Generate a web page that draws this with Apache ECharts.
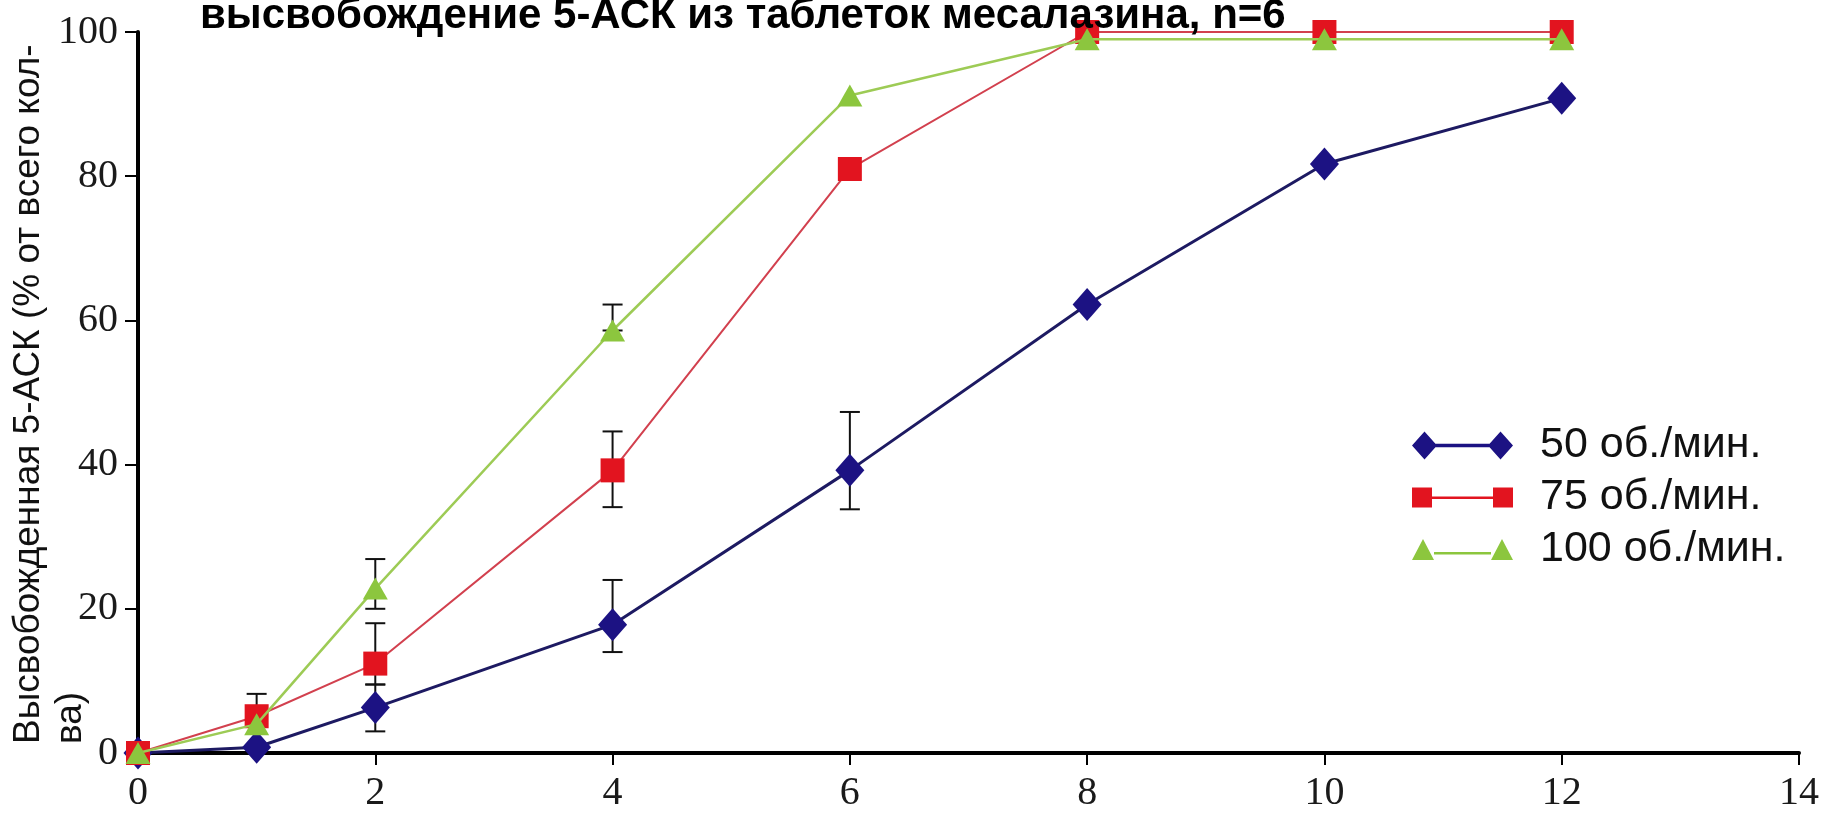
<!DOCTYPE html>
<html>
<head>
<meta charset="utf-8">
<script src="https://cdn.jsdelivr.net/npm/echarts@6/dist/echarts.min.js"></script>
<style>html,body{margin:0;padding:0;background:#fff}#c{width:1822px;height:813px}</style>
</head>
<body>
<div id="c"></div>
<script>
// ---- data ----
const titleText = 'высвобождение 5-АСК из таблеток месалазина, n=6';
const yAxisTitle = 'Высвобожденная 5-АСК (% от всего кол-\nва)';
const seriesNames = ['50 об./мин.', '75 об./мин.', '100 об./мин.'];
const timePoints = [0, 1, 2, 4, 6, 8, 10, 12];
const rpm50 = [0, 0.8, 6.3, 17.8, 39.2, 62.2, 81.7, 90.8];
const rpm75 = [0, 5.1, 12.4, 39.2, 81.0, 100, 100, 100];
const rpm100 = [0, 4.0, 22.8, 58.6, 91.2, 99, 99, 99];
// error bars: [time, low, high]
const err50 = [[2, 3.0, 9.5], [4, 14.0, 24.0], [6, 33.8, 47.3]];
const err75 = [[1, 5.1, 8.2], [2, 9.5, 18.0], [4, 34.1, 44.6]];
const err100 = [[2, 20.0, 26.9], [4, 58.6, 62.2]];
const xTicks = {min: 0, max: 14, interval: 2};
const yTicks = {min: 0, max: 100, interval: 20};

const colors = {
  c50: '#1c1283', l50: '#1d1a62',
  c75: '#e2141f', l75: '#d2404e',
  c100: '#8cc63e', l100: '#9dcb55'
};

function pairs(xs, ys) { return xs.map((x, i) => [x, ys[i]]); }

function errSeries(data) {
  return {
    type: 'custom',
    z: 1,
    silent: true,
    clip: false,
    encode: {x: 0, y: [1, 2]},
    data: data,
    renderItem: function (params, api) {
      const x = api.value(0);
      const lo = api.coord([x, api.value(1)]);
      const hi = api.coord([x, api.value(2)]);
      const hw = 10;
      const st = {stroke: '#111', lineWidth: 2};
      return {
        type: 'group',
        children: [
          {type: 'line', shape: {x1: lo[0], y1: lo[1], x2: hi[0], y2: hi[1]}, style: st},
          {type: 'line', shape: {x1: hi[0] - hw, y1: hi[1], x2: hi[0] + hw, y2: hi[1]}, style: st},
          {type: 'line', shape: {x1: lo[0] - hw, y1: lo[1], x2: lo[0] + hw, y2: lo[1]}, style: st}
        ]
      };
    }
  };
}

const chart = echarts.init(document.getElementById('c'), null, {renderer: 'canvas'});
const serif = '"Liberation Serif", "DejaVu Serif", serif';
const sans = '"Liberation Sans", Arial, sans-serif';

chart.setOption({
  animation: false,
  backgroundColor: '#fff',
  title: {
    text: titleText,
    left: 195, top: -10,
    textStyle: {fontFamily: sans, fontSize: 42, fontWeight: 'bold', color: '#000'}
  },
  grid: {left: 138, right: 23, top: 32, bottom: 45, containLabel: false},
  xAxis: {
    type: 'value', min: xTicks.min, max: xTicks.max, interval: xTicks.interval,
    axisLine: {lineStyle: {color: '#000', width: 4}},
    axisTick: {length: 12, lineStyle: {color: '#000', width: 2}},
    axisLabel: {fontFamily: serif, fontSize: 40, color: '#1a1a1a', margin: 20},
    splitLine: {show: false}
  },
  yAxis: {
    type: 'value', min: yTicks.min, max: yTicks.max, interval: yTicks.interval,
    axisLine: {show: true, lineStyle: {color: '#000', width: 4}},
    axisTick: {show: true, length: 13, lineStyle: {color: '#000', width: 2}},
    axisLabel: {fontFamily: serif, fontSize: 40, color: '#1a1a1a', margin: 20},
    splitLine: {show: false}
  },
  legend: {
    left: 1407, top: 419, orient: 'vertical', itemGap: 9,
    itemWidth: 101, itemHeight: 28,
    textStyle: {fontFamily: sans, fontSize: 43, color: '#111', padding: [0, 0, 0, 22]},
    data: [
      {name: seriesNames[0], icon: 'path://M0,14L12.5,0L25,14L12.5,28Z M12.5,12.2L88.5,12.2L88.5,15.8L12.5,15.8Z M76,14L88.5,0L101,14L88.5,28Z'},
      {name: seriesNames[1], icon: 'path://M0,0L20,0L20,20L0,20Z M20,9L81,9L81,11.5L20,11.5Z M81,0L101,0L101,20L81,20Z'},
      {name: seriesNames[2], icon: 'path://M0,21L11,0L22,21Z M22,13L79,13L79,15.5L22,15.5Z M79,21L90,0L101,21Z'}
    ]
  },
  graphic: [{
    type: 'text', x: 8, y: 744, rotation: Math.PI / 2,
    style: {text: yAxisTitle, fontFamily: sans, fontSize: 37, fill: '#111', align: 'left', verticalAlign: 'top', lineHeight: 42}
  }],
  series: [
    errSeries(err50), errSeries(err75), errSeries(err100),
    {
      name: seriesNames[0], type: 'line', z: 3, clip: false,
      data: pairs(timePoints, rpm50),
      symbol: 'diamond', symbolSize: [29, 33],
      itemStyle: {color: colors.c50},
      lineStyle: {color: colors.l50, width: 3}
    },
    {
      name: seriesNames[1], type: 'line', z: 4, clip: false,
      data: pairs(timePoints, rpm75),
      symbol: 'rect', symbolSize: 24,
      itemStyle: {color: colors.c75},
      lineStyle: {color: colors.l75, width: 2}
    },
    {
      name: seriesNames[2], type: 'line', z: 5, clip: false,
      data: pairs(timePoints, rpm100),
      symbol: 'triangle', symbolSize: [25, 22],
      itemStyle: {color: colors.c100},
      lineStyle: {color: colors.l100, width: 2.5}
    }
  ]
});
</script>
</body>
</html>
